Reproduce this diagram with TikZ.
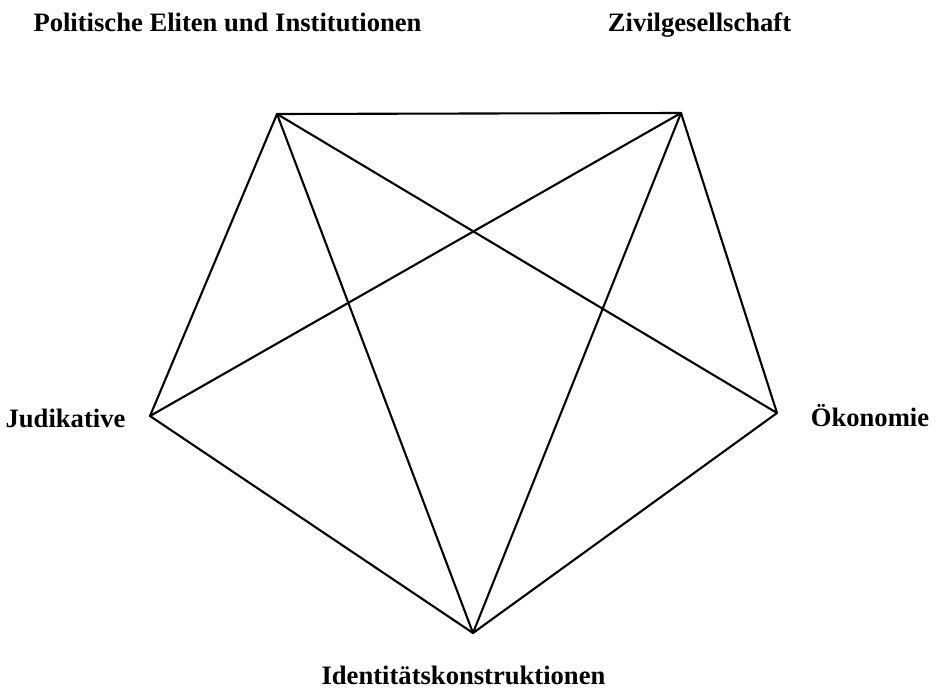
\documentclass[tikz,border=0pt]{standalone}
\usepackage{fontspec}
\setmainfont{Liberation Serif}
\begin{document}
\begin{tikzpicture}[x=1pt,y=-1pt,
  edge/.style={line width=2.1pt,line join=round,line cap=round},
  lab/.style={font=\fontsize{26.6}{30}\selectfont\bfseries,anchor=base,inner sep=0pt}]
\useasboundingbox (0,0) rectangle (936,690);
\coordinate (P) at (277,114);
\coordinate (Z) at (681,113);
\coordinate (O) at (777,413);
\coordinate (I) at (473,633);
\coordinate (J) at (150,416);
\draw[edge] (P) -- (Z) -- (O) -- (I) -- (J) -- cycle;
\draw[edge] (P) -- (O);
\draw[edge] (P) -- (I);
\draw[edge] (Z) -- (J);
\draw[edge] (Z) -- (I);
\node[lab] (lP) at (227.5,32) {Politische Eliten und Institutionen};
\node[lab] (lZ) at (699.5,32) {Zivilgesellschaft};
\node[lab] (lJ) at (65.5,427) {Judikative};
\node[lab] (lO) at (870,426) {Ökonomie};
\node[lab] (lI) at (463.5,684) {Identitätskonstruktionen};
\end{tikzpicture}
\end{document}
